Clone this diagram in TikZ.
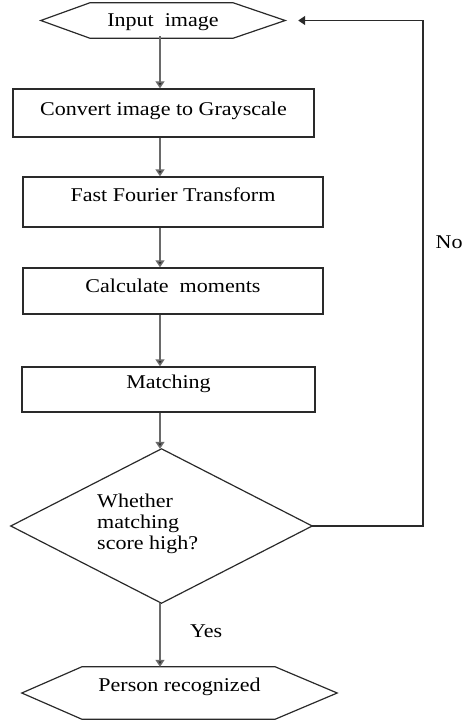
\documentclass[tikz,border=0pt]{standalone}
\usepackage{fontspec}
\setmainfont{Liberation Serif}[FakeStretch=1.13]
\usetikzlibrary{arrows.meta}

\definecolor{edgeline}{HTML}{2A2A2A}
\definecolor{flowline}{HTML}{6A6A6A}

\tikzset{
  every node/.style={font=\fontsize{19.5pt}{21pt}\selectfont, text=black},
  stepbox/.style={draw=edgeline, line width=1.4pt, inner sep=0pt},
  plain/.style={inner sep=0pt},
  outline/.style={draw=edgeline, line width=1.2pt, line join=miter},
  flow/.style={draw=flowline, line width=1.5pt,
    -{Triangle[width=9pt,length=7pt,fill=edgeline]}},
}

\begin{document}
\begin{tikzpicture}[x=1pt, y=-1pt]
  \useasboundingbox (0,0) rectangle (463,721);

  % spine along which the main chain of arrows runs
  \coordinate (spine) at (160,0);
  \coordinate (loop) at (423,300);

  % start terminal (hexagon)
  \node[plain, anchor=base, minimum width=244pt, text height=23.7pt, text depth=11.3pt]
    (inp) at (163,26.7) {Input\ \ image};
  \draw[outline] (inp.west) -- ([xshift=49pt]inp.north west) -- ([xshift=-52pt]inp.north east)
    -- (inp.east) -- ([xshift=-52pt]inp.south east) -- ([xshift=49pt]inp.south west) -- cycle;

  % processing steps
  \node[stepbox, anchor=base, minimum width=301pt, text height=26pt, text depth=22pt]
    (conv) at (163.5,115) {Convert image to Grayscale};
  \node[stepbox, anchor=base, minimum width=300pt, text height=24pt, text depth=26pt]
    (fft) at (173,201) {Fast Fourier Transform};
  \node[stepbox, anchor=base, minimum width=300pt, text height=24pt, text depth=22pt]
    (calc) at (173,292) {Calculate\ \ moments};
  \node[stepbox, anchor=base, minimum width=293pt, text height=21pt, text depth=24pt]
    (match) at (168.5,388) {Matching};

  % decision
  \node[plain, minimum width=301pt, minimum height=154pt] (dec) at (161.5,526) {};
  \draw[outline] (dec.north) -- (dec.east) -- (dec.south) -- (dec.west) -- cycle;
  \node[plain, anchor=base west, align=left] (q) at (97,549)
    {Whether\\matching\\score high?};

  % end terminal (hexagon)
  \node[plain, anchor=base, minimum width=315pt, text height=24pt, text depth=28pt]
    (per) at (179.5,691) {Person recognized};
  \draw[outline] (per.west) -- ([xshift=60pt]per.north west) -- ([xshift=-62pt]per.north east)
    -- (per.east) -- ([xshift=-62pt]per.south east) -- ([xshift=60pt]per.south west) -- cycle;

  % branch labels
  \node[plain, anchor=base west] (yes) at (190,637) {Yes};
  \node[plain, anchor=base west] (no) at (435.5,248) {No};

  % connectors
  \draw[flow] ([yshift=2pt]inp.south -| spine) -- (conv.north -| spine);
  \draw[flow] (conv.south -| spine) -- (fft.north -| spine);
  \draw[flow] (fft.south -| spine) -- (calc.north -| spine);
  \draw[flow] (calc.south -| spine) -- (match.north -| spine);
  \draw[flow] (match.south -| spine) -- (dec.north -| spine);
  \draw[flow] (dec.south -| spine) -- (per.north -| spine);
  \draw[flow, draw=edgeline, shorten >=13pt] (dec.east) -| (loop) |- (inp.east);
\end{tikzpicture}
\end{document}
